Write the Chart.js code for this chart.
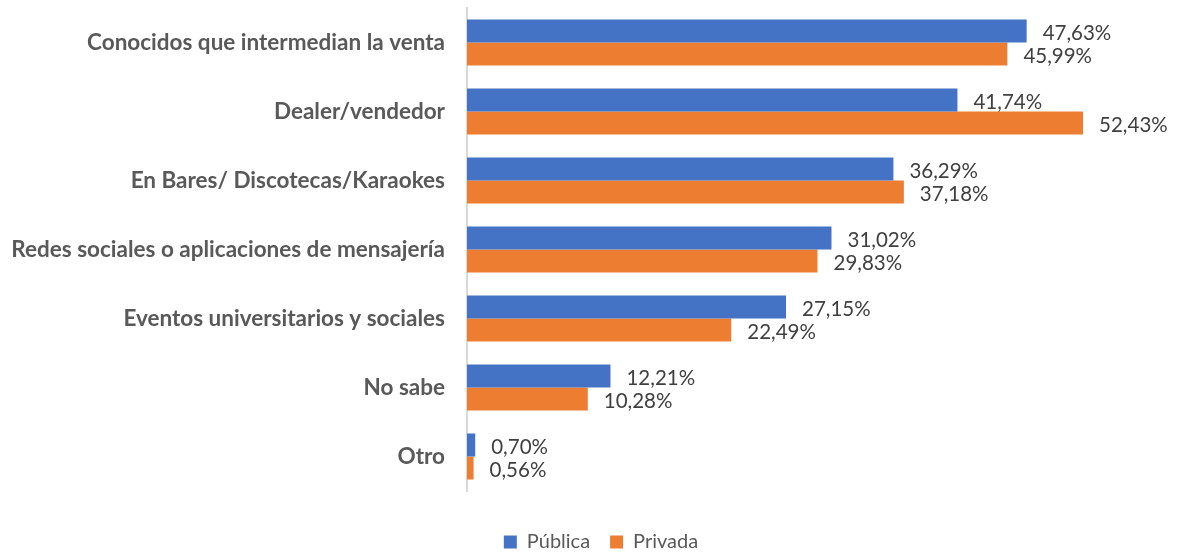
<!DOCTYPE html>
<html>
<head>
<meta charset="utf-8">
<script src="https://cdn.jsdelivr.net/npm/chart.js@4/dist/chart.umd.min.js"></script>
<style>
html,body{margin:0;padding:0;background:#fff;}
#wrap{width:1179px;height:552px;position:relative;}
</style>
</head>
<body>
<div id="wrap"><canvas id="c" width="1179" height="552"></canvas></div>
<script>
const categories = [
  "Conocidos que intermedian la venta",
  "Dealer/vendedor",
  "En Bares/ Discotecas/Karaokes",
  "Redes sociales o aplicaciones de mensajería",
  "Eventos universitarios y sociales",
  "No sabe",
  "Otro"
];
const publica = [47.63, 41.74, 36.29, 31.02, 27.15, 12.21, 0.70];
const privada = [45.99, 52.43, 37.18, 29.83, 22.49, 10.28, 0.56];
const seriesNames = ["Pública", "Privada"];

const FONT = "Lato, 'Open Sans', sans-serif";

const valueLabels = {
  id: 'valueLabels',
  afterDatasetsDraw(chart) {
    const ctx = chart.ctx;
    ctx.save();
    ctx.font = "20.5px " + FONT;
    ctx.fillStyle = "#404040";
    ctx.textBaseline = "middle";
    ctx.textAlign = "left";
    chart.data.datasets.forEach((ds, di) => {
      const meta = chart.getDatasetMeta(di);
      meta.data.forEach((bar, i) => {
        const v = ds.data[i];
        const txt = v.toFixed(2).replace('.', ',') + '%';
        ctx.fillText(txt, bar.x + 16, bar.y + 2);
      });
    });
    ctx.restore();
  }
};

const shiftLegend = {
  id: 'shiftLegend',
  afterLayout(chart) {
    const lg = chart.legend;
    if (lg) {
      const dx = 15, dy = 21;
      lg.left += dx; lg.right += dx;
      lg.top += dy; lg.bottom += dy;
    }
  }
};

new Chart(document.getElementById('c'), {
  type: 'bar',
  data: {
    labels: categories,
    datasets: [
      { label: seriesNames[0], data: publica, backgroundColor: '#4472C4' },
      { label: seriesNames[1], data: privada, backgroundColor: '#ED7D31' }
    ]
  },
  options: {
    indexAxis: 'y',
    responsive: false,
    animation: false,
    layout: { padding: { top: 8, right: 7, bottom: 11, left: 0 } },
    datasets: { bar: { categoryPercentage: 0.667, barPercentage: 1.0 } },
    scales: {
      x: {
        min: 0, max: 60,
        display: false,
        grid: { display: false }
      },
      y: {
        afterFit(scale) { scale.width = 467; },
        grid: { display: false, drawTicks: true, tickLength: 22 },
        border: { display: true, color: '#D9D9D9', width: 2 },
        ticks: {
          color: '#595959',
          font: { family: FONT, size: 22.5, weight: 'bold', lineHeight: 0.7 },
          padding: 0
        }
      }
    },
    plugins: {
      legend: {
        position: 'bottom',
        labels: {
          color: '#595959',
          font: { family: FONT, size: 20 },
          boxWidth: 13,
          boxHeight: 13,
          padding: 20
        }
      },
      tooltip: { enabled: false }
    }
  },
  plugins: [valueLabels, shiftLegend]
});
</script>
</body>
</html>
